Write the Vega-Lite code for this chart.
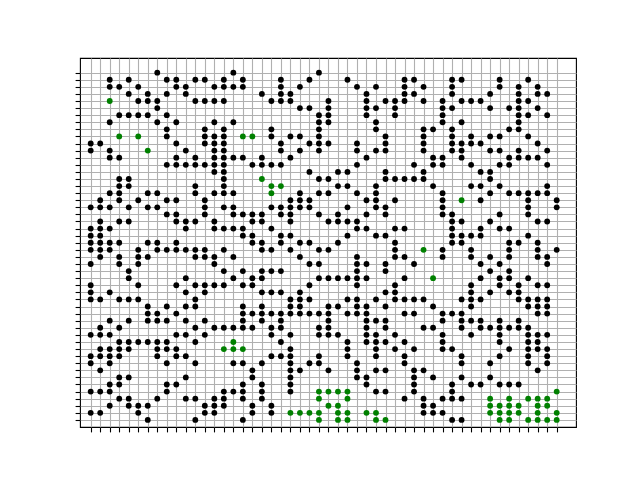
{
"$schema": "https://vega.github.io/schema/vega-lite/v6.json",
"width": 496, "height": 369,
"autosize": {"type": "none"},
"padding": {"left": 80, "top": 58, "right": 64, "bottom": 53},
"background": "white",
"config": {"view": {"stroke": "black", "strokeWidth": 1.1},
 "axis": {"labels": false, "title": null, "domain": false, "ticks": true, "tickSize": 4.9, "tickColor": "black", "tickWidth": 1.1, "grid": true, "gridColor": "#b0b0b0", "gridWidth": 1.1, "gridOpacity": 1}},
"datasets": {
"black": [
{"x":7,"y":0},{"x":15,"y":0},{"x":24,"y":0},
{"x":2,"y":1},{"x":4,"y":1},{"x":8,"y":1},{"x":9,"y":1},{"x":11,"y":1},{"x":12,"y":1},{"x":14,"y":1},{"x":16,"y":1},{"x":20,"y":1},{"x":23,"y":1},{"x":27,"y":1},{"x":33,"y":1},{"x":34,"y":1},{"x":38,"y":1},{"x":39,"y":1},{"x":43,"y":1},{"x":46,"y":1},
{"x":2,"y":2},{"x":3,"y":2},{"x":5,"y":2},{"x":9,"y":2},{"x":10,"y":2},{"x":13,"y":2},{"x":14,"y":2},{"x":15,"y":2},{"x":16,"y":2},{"x":20,"y":2},{"x":22,"y":2},{"x":28,"y":2},{"x":30,"y":2},{"x":33,"y":2},{"x":35,"y":2},{"x":38,"y":2},{"x":43,"y":2},{"x":45,"y":2},{"x":47,"y":2},
{"x":4,"y":3},{"x":6,"y":3},{"x":8,"y":3},{"x":10,"y":3},{"x":18,"y":3},{"x":20,"y":3},{"x":21,"y":3},{"x":29,"y":3},{"x":33,"y":3},{"x":34,"y":3},{"x":38,"y":3},{"x":42,"y":3},{"x":45,"y":3},{"x":47,"y":3},{"x":48,"y":3},
{"x":5,"y":4},{"x":6,"y":4},{"x":7,"y":4},{"x":11,"y":4},{"x":12,"y":4},{"x":13,"y":4},{"x":14,"y":4},{"x":19,"y":4},{"x":20,"y":4},{"x":21,"y":4},{"x":25,"y":4},{"x":29,"y":4},{"x":31,"y":4},{"x":32,"y":4},{"x":33,"y":4},{"x":35,"y":4},{"x":37,"y":4},{"x":39,"y":4},{"x":40,"y":4},{"x":41,"y":4},{"x":45,"y":4},{"x":46,"y":4},
{"x":7,"y":5},{"x":22,"y":5},{"x":23,"y":5},{"x":25,"y":5},{"x":29,"y":5},{"x":30,"y":5},{"x":32,"y":5},{"x":37,"y":5},{"x":38,"y":5},{"x":42,"y":5},{"x":44,"y":5},{"x":45,"y":5},{"x":47,"y":5},
{"x":3,"y":6},{"x":4,"y":6},{"x":5,"y":6},{"x":6,"y":6},{"x":8,"y":6},{"x":24,"y":6},{"x":25,"y":6},{"x":29,"y":6},{"x":32,"y":6},{"x":37,"y":6},{"x":45,"y":6},{"x":46,"y":6},{"x":48,"y":6},
{"x":2,"y":7},{"x":7,"y":7},{"x":9,"y":7},{"x":13,"y":7},{"x":15,"y":7},{"x":24,"y":7},{"x":25,"y":7},{"x":30,"y":7},{"x":37,"y":7},{"x":39,"y":7},{"x":45,"y":7},
{"x":8,"y":8},{"x":12,"y":8},{"x":14,"y":8},{"x":19,"y":8},{"x":24,"y":8},{"x":30,"y":8},{"x":35,"y":8},{"x":36,"y":8},{"x":38,"y":8},{"x":44,"y":8},{"x":45,"y":8},
{"x":8,"y":9},{"x":12,"y":9},{"x":13,"y":9},{"x":14,"y":9},{"x":19,"y":9},{"x":21,"y":9},{"x":22,"y":9},{"x":24,"y":9},{"x":31,"y":9},{"x":35,"y":9},{"x":38,"y":9},{"x":40,"y":9},{"x":42,"y":9},{"x":43,"y":9},{"x":46,"y":9},
{"x":0,"y":10},{"x":1,"y":10},{"x":9,"y":10},{"x":12,"y":10},{"x":13,"y":10},{"x":14,"y":10},{"x":20,"y":10},{"x":23,"y":10},{"x":24,"y":10},{"x":25,"y":10},{"x":28,"y":10},{"x":31,"y":10},{"x":35,"y":10},{"x":38,"y":10},{"x":39,"y":10},{"x":40,"y":10},{"x":41,"y":10},{"x":47,"y":10},
{"x":0,"y":11},{"x":2,"y":11},{"x":10,"y":11},{"x":13,"y":11},{"x":14,"y":11},{"x":20,"y":11},{"x":22,"y":11},{"x":24,"y":11},{"x":28,"y":11},{"x":30,"y":11},{"x":31,"y":11},{"x":35,"y":11},{"x":38,"y":11},{"x":39,"y":11},{"x":42,"y":11},{"x":43,"y":11},{"x":45,"y":11},{"x":48,"y":11},
{"x":2,"y":12},{"x":3,"y":12},{"x":9,"y":12},{"x":11,"y":12},{"x":13,"y":12},{"x":14,"y":12},{"x":15,"y":12},{"x":16,"y":12},{"x":18,"y":12},{"x":21,"y":12},{"x":29,"y":12},{"x":36,"y":12},{"x":37,"y":12},{"x":39,"y":12},{"x":44,"y":12},{"x":45,"y":12},{"x":46,"y":12},{"x":47,"y":12},
{"x":8,"y":13},{"x":9,"y":13},{"x":10,"y":13},{"x":11,"y":13},{"x":12,"y":13},{"x":13,"y":13},{"x":14,"y":13},{"x":17,"y":13},{"x":18,"y":13},{"x":19,"y":13},{"x":20,"y":13},{"x":28,"y":13},{"x":34,"y":13},{"x":36,"y":13},{"x":37,"y":13},{"x":40,"y":13},{"x":43,"y":13},{"x":44,"y":13},{"x":48,"y":13},
{"x":13,"y":14},{"x":14,"y":14},{"x":23,"y":14},{"x":26,"y":14},{"x":27,"y":14},{"x":31,"y":14},{"x":35,"y":14},{"x":41,"y":14},{"x":42,"y":14},
{"x":3,"y":15},{"x":4,"y":15},{"x":14,"y":15},{"x":24,"y":15},{"x":25,"y":15},{"x":31,"y":15},{"x":32,"y":15},{"x":33,"y":15},{"x":34,"y":15},{"x":35,"y":15},{"x":42,"y":15},
{"x":3,"y":16},{"x":4,"y":16},{"x":11,"y":16},{"x":14,"y":16},{"x":26,"y":16},{"x":27,"y":16},{"x":30,"y":16},{"x":36,"y":16},{"x":40,"y":16},{"x":41,"y":16},{"x":43,"y":16},{"x":48,"y":16},
{"x":2,"y":17},{"x":3,"y":17},{"x":6,"y":17},{"x":7,"y":17},{"x":11,"y":17},{"x":13,"y":17},{"x":14,"y":17},{"x":15,"y":17},{"x":22,"y":17},{"x":24,"y":17},{"x":25,"y":17},{"x":28,"y":17},{"x":30,"y":17},{"x":37,"y":17},{"x":42,"y":17},{"x":44,"y":17},{"x":45,"y":17},{"x":46,"y":17},{"x":47,"y":17},{"x":48,"y":17},
{"x":1,"y":18},{"x":3,"y":18},{"x":5,"y":18},{"x":8,"y":18},{"x":9,"y":18},{"x":12,"y":18},{"x":21,"y":18},{"x":22,"y":18},{"x":23,"y":18},{"x":29,"y":18},{"x":30,"y":18},{"x":32,"y":18},{"x":37,"y":18},{"x":41,"y":18},{"x":46,"y":18},{"x":49,"y":18},
{"x":0,"y":19},{"x":1,"y":19},{"x":2,"y":19},{"x":4,"y":19},{"x":6,"y":19},{"x":7,"y":19},{"x":12,"y":19},{"x":14,"y":19},{"x":15,"y":19},{"x":19,"y":19},{"x":20,"y":19},{"x":21,"y":19},{"x":22,"y":19},{"x":23,"y":19},{"x":27,"y":19},{"x":30,"y":19},{"x":31,"y":19},{"x":37,"y":19},{"x":46,"y":19},{"x":49,"y":19},
{"x":8,"y":20},{"x":9,"y":20},{"x":12,"y":20},{"x":15,"y":20},{"x":16,"y":20},{"x":17,"y":20},{"x":18,"y":20},{"x":20,"y":20},{"x":21,"y":20},{"x":24,"y":20},{"x":26,"y":20},{"x":29,"y":20},{"x":31,"y":20},{"x":37,"y":20},{"x":38,"y":20},{"x":43,"y":20},{"x":46,"y":20},
{"x":1,"y":21},{"x":3,"y":21},{"x":4,"y":21},{"x":9,"y":21},{"x":10,"y":21},{"x":11,"y":21},{"x":13,"y":21},{"x":17,"y":21},{"x":18,"y":21},{"x":21,"y":21},{"x":25,"y":21},{"x":26,"y":21},{"x":27,"y":21},{"x":28,"y":21},{"x":38,"y":21},{"x":39,"y":21},{"x":42,"y":21},{"x":47,"y":21},{"x":48,"y":21},
{"x":0,"y":22},{"x":1,"y":22},{"x":2,"y":22},{"x":10,"y":22},{"x":13,"y":22},{"x":14,"y":22},{"x":15,"y":22},{"x":16,"y":22},{"x":19,"y":22},{"x":28,"y":22},{"x":29,"y":22},{"x":32,"y":22},{"x":33,"y":22},{"x":38,"y":22},{"x":41,"y":22},{"x":43,"y":22},{"x":44,"y":22},
{"x":0,"y":23},{"x":1,"y":23},{"x":16,"y":23},{"x":17,"y":23},{"x":20,"y":23},{"x":21,"y":23},{"x":27,"y":23},{"x":30,"y":23},{"x":31,"y":23},{"x":38,"y":23},{"x":39,"y":23},{"x":40,"y":23},{"x":41,"y":23},{"x":46,"y":23},
{"x":0,"y":24},{"x":1,"y":24},{"x":2,"y":24},{"x":3,"y":24},{"x":6,"y":24},{"x":7,"y":24},{"x":9,"y":24},{"x":17,"y":24},{"x":18,"y":24},{"x":20,"y":24},{"x":22,"y":24},{"x":23,"y":24},{"x":26,"y":24},{"x":32,"y":24},{"x":38,"y":24},{"x":39,"y":24},{"x":44,"y":24},{"x":45,"y":24},{"x":47,"y":24},
{"x":0,"y":25},{"x":1,"y":25},{"x":2,"y":25},{"x":5,"y":25},{"x":7,"y":25},{"x":8,"y":25},{"x":9,"y":25},{"x":10,"y":25},{"x":11,"y":25},{"x":12,"y":25},{"x":14,"y":25},{"x":18,"y":25},{"x":19,"y":25},{"x":21,"y":25},{"x":24,"y":25},{"x":25,"y":25},{"x":32,"y":25},{"x":37,"y":25},{"x":40,"y":25},{"x":44,"y":25},{"x":47,"y":25},{"x":49,"y":25},
{"x":1,"y":26},{"x":3,"y":26},{"x":5,"y":26},{"x":6,"y":26},{"x":11,"y":26},{"x":12,"y":26},{"x":13,"y":26},{"x":15,"y":26},{"x":22,"y":26},{"x":28,"y":26},{"x":32,"y":26},{"x":33,"y":26},{"x":37,"y":26},{"x":40,"y":26},{"x":42,"y":26},{"x":44,"y":26},{"x":47,"y":26},{"x":48,"y":26},
{"x":0,"y":27},{"x":3,"y":27},{"x":5,"y":27},{"x":13,"y":27},{"x":23,"y":27},{"x":24,"y":27},{"x":28,"y":27},{"x":29,"y":27},{"x":31,"y":27},{"x":34,"y":27},{"x":41,"y":27},{"x":43,"y":27},{"x":48,"y":27},
{"x":4,"y":28},{"x":14,"y":28},{"x":16,"y":28},{"x":18,"y":28},{"x":19,"y":28},{"x":20,"y":28},{"x":28,"y":28},{"x":31,"y":28},{"x":42,"y":28},{"x":44,"y":28},
{"x":4,"y":29},{"x":10,"y":29},{"x":15,"y":29},{"x":17,"y":29},{"x":18,"y":29},{"x":24,"y":29},{"x":25,"y":29},{"x":26,"y":29},{"x":27,"y":29},{"x":28,"y":29},{"x":29,"y":29},{"x":33,"y":29},{"x":41,"y":29},{"x":43,"y":29},{"x":44,"y":29},{"x":46,"y":29},
{"x":0,"y":30},{"x":5,"y":30},{"x":9,"y":30},{"x":11,"y":30},{"x":12,"y":30},{"x":13,"y":30},{"x":14,"y":30},{"x":16,"y":30},{"x":17,"y":30},{"x":23,"y":30},{"x":28,"y":30},{"x":32,"y":30},{"x":40,"y":30},{"x":43,"y":30},{"x":45,"y":30},{"x":47,"y":30},{"x":48,"y":30},
{"x":0,"y":31},{"x":2,"y":31},{"x":10,"y":31},{"x":12,"y":31},{"x":18,"y":31},{"x":19,"y":31},{"x":20,"y":31},{"x":22,"y":31},{"x":31,"y":31},{"x":32,"y":31},{"x":40,"y":31},{"x":42,"y":31},{"x":44,"y":31},{"x":45,"y":31},
{"x":0,"y":32},{"x":1,"y":32},{"x":3,"y":32},{"x":4,"y":32},{"x":5,"y":32},{"x":11,"y":32},{"x":21,"y":32},{"x":22,"y":32},{"x":23,"y":32},{"x":27,"y":32},{"x":28,"y":32},{"x":30,"y":32},{"x":32,"y":32},{"x":33,"y":32},{"x":34,"y":32},{"x":35,"y":32},{"x":39,"y":32},{"x":40,"y":32},{"x":41,"y":32},{"x":45,"y":32},{"x":46,"y":32},{"x":47,"y":32},{"x":48,"y":32},
{"x":6,"y":33},{"x":8,"y":33},{"x":10,"y":33},{"x":11,"y":33},{"x":16,"y":33},{"x":18,"y":33},{"x":21,"y":33},{"x":22,"y":33},{"x":25,"y":33},{"x":26,"y":33},{"x":28,"y":33},{"x":29,"y":33},{"x":31,"y":33},{"x":36,"y":33},{"x":40,"y":33},{"x":46,"y":33},{"x":47,"y":33},{"x":48,"y":33},
{"x":6,"y":34},{"x":7,"y":34},{"x":9,"y":34},{"x":16,"y":34},{"x":17,"y":34},{"x":18,"y":34},{"x":19,"y":34},{"x":20,"y":34},{"x":21,"y":34},{"x":22,"y":34},{"x":23,"y":34},{"x":24,"y":34},{"x":25,"y":34},{"x":27,"y":34},{"x":28,"y":34},{"x":29,"y":34},{"x":33,"y":34},{"x":34,"y":34},{"x":37,"y":34},{"x":38,"y":34},{"x":39,"y":34},{"x":47,"y":34},{"x":48,"y":34},
{"x":2,"y":35},{"x":4,"y":35},{"x":6,"y":35},{"x":7,"y":35},{"x":8,"y":35},{"x":10,"y":35},{"x":12,"y":35},{"x":16,"y":35},{"x":18,"y":35},{"x":20,"y":35},{"x":25,"y":35},{"x":29,"y":35},{"x":30,"y":35},{"x":31,"y":35},{"x":37,"y":35},{"x":39,"y":35},{"x":40,"y":35},{"x":41,"y":35},{"x":43,"y":35},{"x":45,"y":35},
{"x":1,"y":36},{"x":3,"y":36},{"x":11,"y":36},{"x":13,"y":36},{"x":14,"y":36},{"x":15,"y":36},{"x":16,"y":36},{"x":17,"y":36},{"x":19,"y":36},{"x":20,"y":36},{"x":24,"y":36},{"x":25,"y":36},{"x":29,"y":36},{"x":31,"y":36},{"x":35,"y":36},{"x":36,"y":36},{"x":39,"y":36},{"x":41,"y":36},{"x":42,"y":36},{"x":43,"y":36},{"x":44,"y":36},{"x":45,"y":36},{"x":46,"y":36},
{"x":0,"y":37},{"x":1,"y":37},{"x":2,"y":37},{"x":9,"y":37},{"x":10,"y":37},{"x":12,"y":37},{"x":19,"y":37},{"x":21,"y":37},{"x":24,"y":37},{"x":25,"y":37},{"x":26,"y":37},{"x":29,"y":37},{"x":30,"y":37},{"x":32,"y":37},{"x":37,"y":37},{"x":40,"y":37},{"x":43,"y":37},{"x":46,"y":37},{"x":47,"y":37},{"x":48,"y":37},
{"x":3,"y":38},{"x":4,"y":38},{"x":5,"y":38},{"x":6,"y":38},{"x":7,"y":38},{"x":8,"y":38},{"x":11,"y":38},{"x":20,"y":38},{"x":27,"y":38},{"x":29,"y":38},{"x":30,"y":38},{"x":31,"y":38},{"x":33,"y":38},{"x":37,"y":38},{"x":43,"y":38},{"x":46,"y":38},{"x":47,"y":38},
{"x":1,"y":39},{"x":2,"y":39},{"x":3,"y":39},{"x":4,"y":39},{"x":7,"y":39},{"x":8,"y":39},{"x":9,"y":39},{"x":21,"y":39},{"x":27,"y":39},{"x":30,"y":39},{"x":32,"y":39},{"x":34,"y":39},{"x":37,"y":39},{"x":38,"y":39},{"x":44,"y":39},{"x":46,"y":39},{"x":47,"y":39},{"x":48,"y":39},
{"x":0,"y":40},{"x":1,"y":40},{"x":2,"y":40},{"x":3,"y":40},{"x":7,"y":40},{"x":9,"y":40},{"x":10,"y":40},{"x":19,"y":40},{"x":20,"y":40},{"x":21,"y":40},{"x":24,"y":40},{"x":27,"y":40},{"x":30,"y":40},{"x":33,"y":40},{"x":39,"y":40},{"x":43,"y":40},{"x":46,"y":40},{"x":48,"y":40},
{"x":0,"y":41},{"x":2,"y":41},{"x":8,"y":41},{"x":11,"y":41},{"x":15,"y":41},{"x":16,"y":41},{"x":18,"y":41},{"x":21,"y":41},{"x":23,"y":41},{"x":24,"y":41},{"x":28,"y":41},{"x":33,"y":41},{"x":39,"y":41},{"x":42,"y":41},{"x":46,"y":41},{"x":48,"y":41},
{"x":1,"y":42},{"x":17,"y":42},{"x":21,"y":42},{"x":22,"y":42},{"x":25,"y":42},{"x":28,"y":42},{"x":30,"y":42},{"x":31,"y":42},{"x":34,"y":42},{"x":35,"y":42},{"x":47,"y":42},
{"x":3,"y":43},{"x":4,"y":43},{"x":10,"y":43},{"x":17,"y":43},{"x":21,"y":43},{"x":28,"y":43},{"x":29,"y":43},{"x":34,"y":43},{"x":36,"y":43},{"x":39,"y":43},{"x":42,"y":43},
{"x":2,"y":44},{"x":3,"y":44},{"x":8,"y":44},{"x":9,"y":44},{"x":16,"y":44},{"x":18,"y":44},{"x":21,"y":44},{"x":29,"y":44},{"x":34,"y":44},{"x":38,"y":44},{"x":40,"y":44},{"x":41,"y":44},{"x":43,"y":44},{"x":44,"y":44},{"x":45,"y":44},
{"x":0,"y":45},{"x":1,"y":45},{"x":2,"y":45},{"x":8,"y":45},{"x":14,"y":45},{"x":15,"y":45},{"x":16,"y":45},{"x":18,"y":45},{"x":21,"y":45},{"x":30,"y":45},{"x":31,"y":45},{"x":34,"y":45},{"x":38,"y":45},
{"x":3,"y":46},{"x":4,"y":46},{"x":7,"y":46},{"x":10,"y":46},{"x":11,"y":46},{"x":13,"y":46},{"x":14,"y":46},{"x":16,"y":46},{"x":18,"y":46},{"x":33,"y":46},{"x":35,"y":46},{"x":37,"y":46},{"x":38,"y":46},{"x":39,"y":46},
{"x":2,"y":47},{"x":4,"y":47},{"x":5,"y":47},{"x":6,"y":47},{"x":12,"y":47},{"x":13,"y":47},{"x":14,"y":47},{"x":17,"y":47},{"x":19,"y":47},{"x":35,"y":47},{"x":36,"y":47},
{"x":0,"y":48},{"x":1,"y":48},{"x":5,"y":48},{"x":12,"y":48},{"x":13,"y":48},{"x":17,"y":48},{"x":19,"y":48},{"x":35,"y":48},{"x":36,"y":48},{"x":37,"y":48},
{"x":6,"y":49},{"x":11,"y":49},{"x":16,"y":49},{"x":38,"y":49},{"x":39,"y":49}
],
"green": [
{"x":2,"y":4},{"x":3,"y":9},{"x":5,"y":9},{"x":16,"y":9},{"x":17,"y":9},{"x":6,"y":11},{"x":18,"y":15},{"x":19,"y":16},{"x":20,"y":16},{"x":19,"y":17},{"x":39,"y":18},{"x":35,"y":25},{"x":36,"y":29},
{"x":15,"y":38},{"x":14,"y":39},{"x":15,"y":39},{"x":16,"y":39},
{"x":24,"y":45},{"x":25,"y":45},{"x":26,"y":45},{"x":27,"y":45},{"x":49,"y":45},
{"x":24,"y":46},{"x":27,"y":46},{"x":42,"y":46},{"x":44,"y":46},{"x":46,"y":46},{"x":47,"y":46},{"x":48,"y":46},
{"x":25,"y":47},{"x":26,"y":47},{"x":42,"y":47},{"x":43,"y":47},{"x":44,"y":47},{"x":45,"y":47},{"x":47,"y":47},{"x":48,"y":47},
{"x":21,"y":48},{"x":22,"y":48},{"x":23,"y":48},{"x":24,"y":48},{"x":26,"y":48},{"x":27,"y":48},{"x":29,"y":48},{"x":30,"y":48},{"x":42,"y":48},{"x":43,"y":48},{"x":44,"y":48},{"x":45,"y":48},{"x":47,"y":48},{"x":49,"y":48},
{"x":24,"y":49},{"x":26,"y":49},{"x":27,"y":49},{"x":30,"y":49},{"x":31,"y":49},{"x":43,"y":49},{"x":44,"y":49},{"x":46,"y":49},{"x":47,"y":49},{"x":48,"y":49},{"x":49,"y":49}
]
},
"encoding": {
 "x": {"field": "x", "type": "quantitative", "scale": {"domain": [-1.125, 51.03], "nice": false, "zero": false},
  "axis": {"values": [0,1,2,3,4,5,6,7,8,9,10,11,12,13,14,15,16,17,18,19,20,21,22,23,24,25,26,27,28,29,30,31,32,33,34,35,36,37,38,39,40,41,42,43,44,45,46,47,48,49]}},
 "y": {"field": "y", "type": "quantitative", "scale": {"domain": [-2.07, 50], "nice": false, "zero": false, "reverse": true},
  "axis": {"values": [0,1,2,3,4,5,6,7,8,9,10,11,12,13,14,15,16,17,18,19,20,21,22,23,24,25,26,27,28,29,30,31,32,33,34,35,36,37,38,39,40,41,42,43,44,45,46,47,48,49]}}
},
"layer": [
 {"data": {"name": "black"}, "mark": {"type": "point", "filled": true, "shape": "circle", "size": 34, "color": "#000000", "opacity": 1}},
 {"data": {"name": "green"}, "mark": {"type": "point", "filled": true, "shape": "circle", "size": 34, "color": "#008000", "opacity": 1}}
]
}
